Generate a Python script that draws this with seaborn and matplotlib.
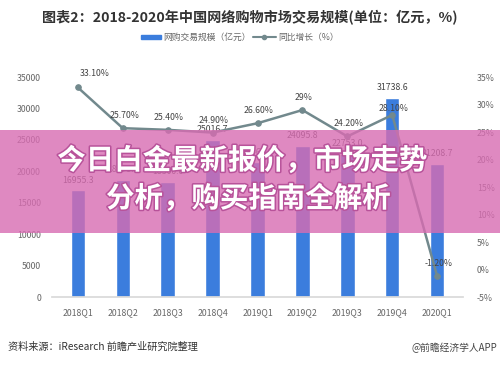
import matplotlib
matplotlib.use("Agg")
import matplotlib.pyplot as plt
import matplotlib.patheffects as pe
from matplotlib.patches import Rectangle
import seaborn as sns
import pandas as pd

quarters = ["2018Q1", "2018Q2", "2018Q3", "2018Q4", "2019Q1",
            "2019Q2", "2019Q3", "2019Q4", "2020Q1"]
volume = [16955.3, 18679.0, 18300.0, 25016.7, 21465.0,
          24095.8, 22753.0, 31738.6, 21208.7]
growth = [33.1, 25.7, 25.4, 24.9, 26.6, 29.0, 24.2, 28.1, -1.2]
growth_labels = ["33.10%", "25.70%", "25.40%", "24.90%", "26.60%",
                 "29%", "24.20%", "28.10%", "-1.20%"]
left_ticks = [0, 5000, 10000, 15000, 20000, 25000, 30000, 35000]
right_ticks = [-5, 0, 5, 10, 15, 20, 25, 30, 35]

sns.set_theme(style="white")
plt.rcParams['font.family'] = ['Noto Sans CJK SC', 'DejaVu Sans']

df = pd.DataFrame({"quarter": quarters, "volume": volume, "growth": growth})

fig = plt.figure(figsize=(5, 3.66), dpi=100)
fig.patch.set_facecolor("white")
ax = fig.add_axes([0.104, 0.1885, 0.822, 0.601])

bar_color = "#3b7ddd"
line_color = "#72898d"
tick_color = "#666666"

sns.barplot(data=df, x="quarter", y="volume", ax=ax, color=bar_color,
            width=0.32, saturation=1, zorder=2)
ax.set_ylim(0, 35000)
ax.set_yticks(left_ticks)
ax.set_yticklabels([str(t) for t in left_ticks])
ax.set_xlabel("")
ax.set_ylabel("")
ax.tick_params(axis="both", length=0, labelsize=6.3, colors=tick_color)
ax.tick_params(axis="x", pad=8)
ax.tick_params(axis="y", pad=8)
for s in ["top", "left", "right"]:
    ax.spines[s].set_visible(False)
ax.spines["bottom"].set_color("#d9d9d9")
ax.bar_label(ax.containers[0], labels=[f"{v:.1f}" for v in volume],
             padding=4, fontsize=6.3, color="#444444")

ax2 = ax.twinx()
sns.lineplot(data=df, x="quarter", y="growth", ax=ax2, color=line_color,
             marker="o", markersize=4, linewidth=1.8, sort=False,
             markeredgecolor=line_color, zorder=3)
ax2.set_ylim(-5, 35)
ax2.set_yticks(right_ticks)
ax2.set_yticklabels([f"{t}%" for t in right_ticks])
ax2.set_ylabel("")
ax2.tick_params(axis="y", length=0, labelsize=6.3, colors=tick_color, pad=10)
for s in ["top", "left", "right", "bottom"]:
    ax2.spines[s].set_visible(False)

for i, (g, lab) in enumerate(zip(growth, growth_labels)):
    dx = 12 if i == 0 else 1
    dy = 10 if i == 0 else 9
    if i == 7:
        dy = 5
    ax2.annotate(lab, (i, g), xytext=(dx, dy), textcoords="offset points",
                 ha="center", va="center", fontsize=6.3, color="#444444")

# Title, legend, source
fig.text(0.5, 0.953, "图表2：2018-2020年中国网络购物市场交易规模(单位：亿元，%)",
         ha="center", va="center", fontsize=10.2, fontweight="bold", color="#333333")
fig.patches.append(Rectangle((0.282, 0.893), 0.04, 0.012, transform=fig.transFigure,
                             color=bar_color, figure=fig))
fig.text(0.326, 0.899, "网购交易规模（亿元）", ha="left", va="center",
         fontsize=6.3, color="#666666")
fig.lines.append(plt.Line2D([0.505, 0.528, 0.552], [0.899, 0.899, 0.899],
                            transform=fig.transFigure,
                            color=line_color, linewidth=1.5, marker="o",
                            markersize=3, markevery=[1], figure=fig))
fig.text(0.556, 0.899, "同比增长（%）", ha="left", va="center",
         fontsize=6.3, color="#666666")
fig.text(0.016, 0.052, "资料来源：iResearch 前瞻产业研究院整理", ha="left", va="center",
         fontsize=7.3, color="#333333")
fig.text(0.995, 0.049, "@前瞻经济学人APP", ha="right", va="center",
         fontsize=7, color="#444444")

# Pink banner overlay
fig.patches.append(Rectangle((0, 1 - 233 / 366), 1, 103 / 366, transform=fig.transFigure,
                             facecolor="#d86cb2", alpha=0.8, edgecolor="none",
                             figure=fig, zorder=10))
stroke = [pe.withStroke(linewidth=2.2, foreground="#b8529a")]
fig.text(0.485, 1 - 161 / 366, "今日白金最新报价，市场走势", ha="center", va="center",
         fontsize=20.5, fontweight="bold", color="white", path_effects=stroke, zorder=11)
fig.text(0.497, 1 - 199 / 366, "分析，购买指南全解析", ha="center", va="center",
         fontsize=20.5, fontweight="bold", color="white", path_effects=stroke, zorder=11)

fig.savefig("out.png", dpi=100)
